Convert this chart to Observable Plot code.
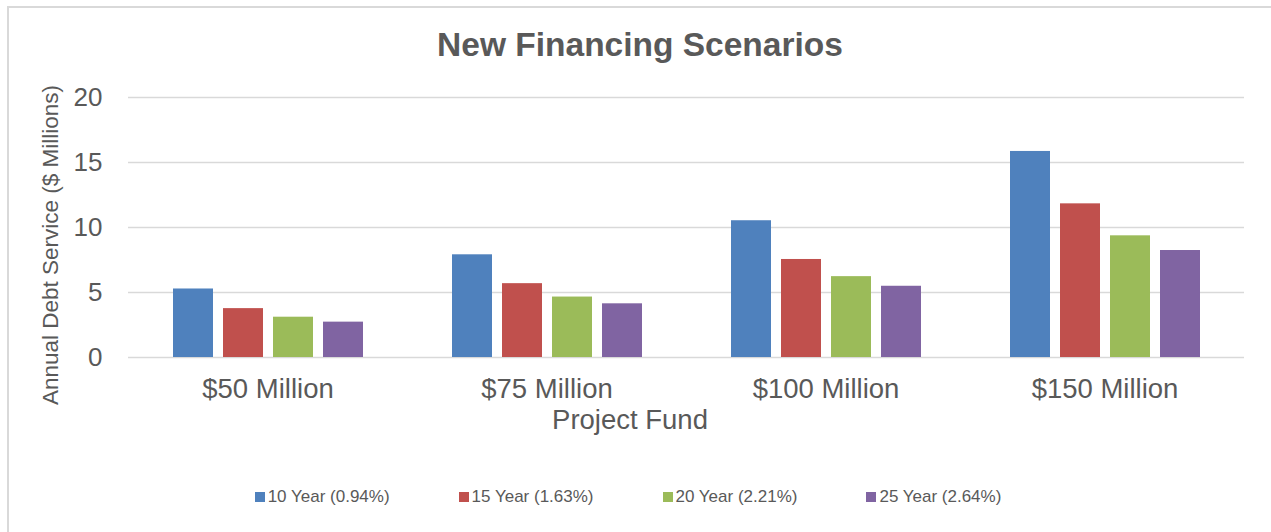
<!DOCTYPE html>
<html>
<head>
<meta charset="utf-8">
<script src="https://cdn.jsdelivr.net/npm/d3@7"></script>
<script src="https://cdn.jsdelivr.net/npm/@observablehq/plot@0.6"></script>
<style>
  html, body { margin: 0; padding: 0; background: #fff; }
  #chart { position: relative; width: 1271px; height: 532px; overflow: hidden; font-family: "Liberation Sans", Arial, sans-serif; color: #595959; }
  #frame { position: absolute; left: 7px; top: 6px; width: 1320px; height: 600px; border: 2px solid #d9d9d9; box-sizing: border-box; }
  #title { position: absolute; left: 0; width: 1280px; top: 25px; text-align: center; font-weight: bold; font-size: 33.5px; line-height: 40px; }
  #plot { position: absolute; left: 0; top: 70px; }
  #ylabel { position: absolute; left: 51px; top: 245px; transform: translate(-50%, -50%) rotate(-90deg); white-space: nowrap; font-size: 22.5px; }
  #xlabel { position: absolute; left: 630px; top: 406px; transform: translateX(-50%); white-space: nowrap; font-size: 27.5px; line-height: 27px; }
  #legend { position: absolute; left: 0; width: 1256px; top: 485px; display: flex; justify-content: center; gap: 69px; font-size: 17px; line-height: 24px; }
  .item { display: flex; align-items: center; gap: 3px; }
  .sw { width: 10px; height: 10px; display: inline-block; }
</style>
</head>
<body>
<div id="chart">
  <div id="frame"></div>
  <div id="title">New Financing Scenarios</div>
  <div id="plot"></div>
  <div id="ylabel">Annual Debt Service ($ Millions)</div>
  <div id="xlabel">Project Fund</div>
  <div id="legend"></div>
</div>
<script>
const groups = ["$50 Million", "$75 Million", "$100 Million", "$150 Million"];
const series = ["10 Year (0.94%)", "15 Year (1.63%)", "20 Year (2.21%)", "25 Year (2.64%)"];
const colors = ["#4f81bd", "#c0504d", "#9bbb59", "#8064a2"];
const tenYear = [5.27, 7.9, 10.52, 15.85];
const fifteenYear = [3.76, 5.68, 7.54, 11.82];
const twentyYear = [3.1, 4.65, 6.22, 9.36];
const twentyFiveYear = [2.72, 4.13, 5.48, 8.23];
const yTicks = [0, 5, 10, 15, 20];

const seriesValues = [tenYear, fifteenYear, twentyYear, twentyFiveYear];
const data = [];
groups.forEach((g, i) => {
  series.forEach((s, j) => data.push({group: g, series: s, value: seriesValues[j][i]}));
});

const chart = Plot.plot({
  width: 1271,
  height: 400,
  marginTop: 27,
  marginBottom: 113,
  marginLeft: 128,
  marginRight: 27,
  style: {fontFamily: "'Liberation Sans', Arial, sans-serif", color: "#595959", background: "transparent", overflow: "visible"},
  fx: {domain: groups, padding: 0, label: null},
  x: {domain: series, paddingInner: 0.2, paddingOuter: 0.857, axis: null},
  y: {domain: [0, 20], axis: null},
  color: {domain: series, range: colors},
  marks: [
    Plot.ruleY(yTicks, {stroke: "#d9d9d9", strokeWidth: 1.5}),
    Plot.barY(data, {fx: "group", x: "series", y: "value", fill: "series"}),
    Plot.axisY(yTicks, {tickSize: 0, tickPadding: 26, fontSize: 26, label: null}),
    Plot.axisFx({anchor: "bottom", tickSize: 0, tickPadding: 21, fontSize: 27.5, label: null})
  ]
});
document.getElementById("plot").appendChild(chart);

const legend = document.getElementById("legend");
series.forEach((s, i) => {
  const item = document.createElement("div");
  item.className = "item";
  const sw = document.createElement("span");
  sw.className = "sw";
  sw.style.background = colors[i];
  const t = document.createElement("span");
  t.textContent = s;
  item.appendChild(sw);
  item.appendChild(t);
  legend.appendChild(item);
});
</script>
</body>
</html>
